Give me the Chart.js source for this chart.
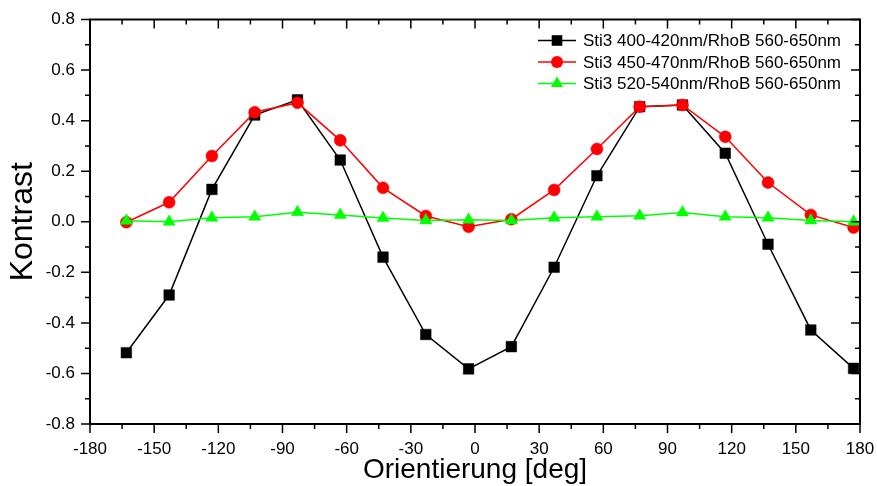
<!DOCTYPE html>
<html>
<head>
<meta charset="utf-8">
<script src="https://cdn.jsdelivr.net/npm/chart.js@4/dist/chart.umd.min.js"></script>
<style>
  html, body { margin: 0; padding: 0; background: #fff; }
  #wrap { width: 877px; height: 486px; position: relative; }
</style>
</head>
<body>
<div id="wrap"><canvas id="c"></canvas></div>
<script>
// Polarisation angle of each measurement (deg)
const angles = [-163, -143, -123, -103, -83, -63, -43, -23, -3, 17, 37, 57, 77, 97, 117, 137, 157, 177];

// Contrast for each excitation band, referenced to RhoB 560-650 nm
const contrast400 = [-0.518, -0.29, 0.128, 0.422, 0.482, 0.244, -0.14, -0.446, -0.582, -0.494, -0.18, 0.182, 0.455, 0.462, 0.271, -0.089, -0.428, -0.58];
const contrast450 = [-0.002, 0.077, 0.26, 0.433, 0.471, 0.322, 0.134, 0.023, -0.02, 0.01, 0.126, 0.288, 0.455, 0.462, 0.336, 0.155, 0.027, -0.023];
const contrast520 = [0.004, 0.0, 0.016, 0.02, 0.038, 0.027, 0.015, 0.005, 0.008, 0.005, 0.016, 0.02, 0.024, 0.037, 0.02, 0.016, 0.005, 0.0];

const seriesLabels = [
  'Sti3 400-420nm/RhoB 560-650nm',
  'Sti3 450-470nm/RhoB 560-650nm',
  'Sti3 520-540nm/RhoB 560-650nm'
];

// Axis ticks
const xTicks = [-180, -150, -120, -90, -60, -30, 0, 30, 60, 90, 120, 150, 180];
const yTicks = [-0.8, -0.6, -0.4, -0.2, 0.0, 0.2, 0.4, 0.6, 0.8];

const FONT = '"Liberation Sans", Arial, sans-serif';

function pts(ys) { return angles.map((a, i) => ({ x: a, y: ys[i] })); }

function midpoints(arr) {
  const out = [];
  for (let i = 0; i < arr.length - 1; i++) out.push((arr[i] + arr[i + 1]) / 2);
  return out;
}

function drawMarker(ctx, style, x, y, color) {
  ctx.fillStyle = color;
  ctx.beginPath();
  if (style === 'rect') {
    ctx.rect(x - 5.3, y - 5.3, 10.6, 10.6);
  } else if (style === 'circle') {
    ctx.arc(x, y, 6, 0, Math.PI * 2);
  } else {
    const r = 7;
    ctx.moveTo(x, y - r);
    ctx.lineTo(x + r * Math.sin(Math.PI / 3), y + r / 2);
    ctx.lineTo(x - r * Math.sin(Math.PI / 3), y + r / 2);
    ctx.closePath();
  }
  ctx.fill();
}

// Closed frame with outward ticks on bottom/left and inward ticks on top/right
const frameTicks = {
  id: 'frameTicks',
  afterDraw(chart) {
    const ctx = chart.ctx, a = chart.chartArea;
    const xs = chart.scales.x, ys = chart.scales.y;
    const xMinor = midpoints(xTicks), yMinor = midpoints(yTicks);
    ctx.save();
    ctx.strokeStyle = '#000';
    ctx.lineWidth = 1.5;
    ctx.beginPath();
    const xt = (v, len) => {
      const p = xs.getPixelForValue(v);
      ctx.moveTo(p, a.bottom); ctx.lineTo(p, a.bottom + len);
      ctx.moveTo(p, a.top); ctx.lineTo(p, a.top + len);
    };
    const yt = (v, len) => {
      const p = ys.getPixelForValue(v);
      ctx.moveTo(a.left, p); ctx.lineTo(a.left - len, p);
      ctx.moveTo(a.right, p); ctx.lineTo(a.right - len, p);
    };
    xTicks.forEach(v => xt(v, 9));
    xMinor.forEach(v => xt(v, 5));
    yTicks.forEach(v => yt(v, 9));
    yMinor.forEach(v => yt(v, 5));
    ctx.stroke();
    ctx.lineWidth = 2;
    ctx.strokeRect(a.left, a.top, a.right - a.left, a.bottom - a.top);
    ctx.restore();
  }
};

// Legend with line-marker-line samples in the upper right
const lineLegend = {
  id: 'lineLegend',
  afterDraw(chart) {
    const ctx = chart.ctx;
    const rows = [40.5, 62, 83.5];
    const styles = ['rect', 'circle', 'triangle'];
    ctx.save();
    ctx.font = '17px ' + FONT;
    ctx.textBaseline = 'middle';
    chart.data.datasets.forEach((ds, i) => {
      const y = rows[i];
      ctx.strokeStyle = ds.borderColor;
      ctx.lineWidth = 1.5;
      ctx.beginPath();
      ctx.moveTo(538, y); ctx.lineTo(576, y);
      ctx.stroke();
      drawMarker(ctx, styles[i], 557, y, ds.borderColor);
      ctx.fillStyle = '#000';
      ctx.fillText(ds.label, 583, y + 1);
    });
    ctx.restore();
  }
};

function makeDataset(label, ys, color, style, radius, order) {
  return {
    label: label,
    data: pts(ys),
    borderColor: color,
    backgroundColor: color,
    borderWidth: 1.5,
    pointStyle: style,
    pointRadius: radius,
    pointBorderWidth: 0.5,
    pointBorderColor: color,
    pointBackgroundColor: color,
    showLine: true,
    tension: 0,
    order: order
  };
}

new Chart(document.getElementById('c'), {
  type: 'scatter',
  data: {
    datasets: [
      makeDataset(seriesLabels[0], contrast400, '#000000', 'rect', 7.5, 3),
      makeDataset(seriesLabels[1], contrast450, '#ff0000', 'circle', 6, 2),
      makeDataset(seriesLabels[2], contrast520, '#00ff00', 'triangle', 7, 1)
    ]
  },
  options: {
    responsive: true,
    maintainAspectRatio: false,
    animation: false,
    layout: { padding: { top: 19.5, right: 17, left: 0, bottom: 0 } },
    plugins: { legend: { display: false }, tooltip: { enabled: false } },
    scales: {
      x: {
        type: 'linear',
        min: -180, max: 180,
        afterBuildTicks: s => { s.ticks = xTicks.map(v => ({ value: v })); },
        afterFit: s => { s.height = 62; s.paddingLeft = 0; s.paddingRight = 0; },
        grid: { display: false, drawTicks: false },
        border: { display: false },
        ticks: {
          color: '#000', padding: 15, maxRotation: 0, autoSkip: false,
          font: { family: FONT, size: 17 },
          callback: v => String(v)
        },
        title: {
          display: true, text: 'Orientierung [deg]', color: '#000',
          font: { family: FONT, size: 28, lineHeight: 1.1 }, padding: { top: 0, bottom: 0 }
        }
      },
      y: {
        type: 'linear',
        min: -0.8, max: 0.8,
        afterBuildTicks: s => { s.ticks = yTicks.map(v => ({ value: v })); },
        afterFit: s => { s.width = 90; s.paddingTop = 0; s.paddingBottom = 0; },
        grid: { display: false, drawTicks: false },
        border: { display: false },
        ticks: {
          color: '#000', padding: 15, autoSkip: false,
          font: { family: FONT, size: 17 },
          callback: v => Number(v).toFixed(1)
        },
        title: {
          display: true, text: 'Kontrast', color: '#000',
          font: { family: FONT, size: 32 }, padding: { top: 4, bottom: 0 }
        }
      }
    }
  },
  plugins: [frameTicks, lineLegend]
});
</script>
</body>
</html>
